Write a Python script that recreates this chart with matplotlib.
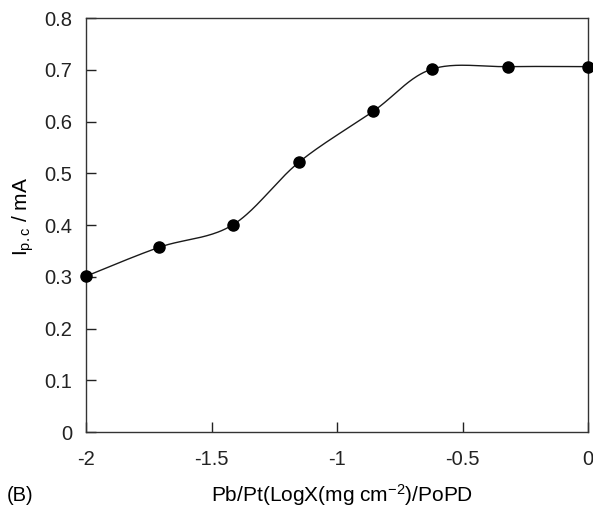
import numpy as np
import matplotlib
matplotlib.use("Agg")
import matplotlib.pyplot as plt

plt.rcParams['font.family'] = ['Liberation Sans', 'DejaVu Sans']
plt.rcParams['mathtext.fontset'] = 'custom'
plt.rcParams['mathtext.rm'] = 'Liberation Sans'
plt.rcParams['mathtext.it'] = 'Liberation Sans'

x_vals = [-2.0, -1.708, -1.416, -1.150, -0.855, -0.623, -0.317, 0.0]
y_vals = [0.301, 0.357, 0.400, 0.522, 0.620, 0.701, 0.706, 0.706]
x_ticks = [-2, -1.5, -1, -0.5, 0]
x_ticklabels = ['-2', '-1.5', '-1', '-0.5', '0']
y_ticks = [0, 0.1, 0.2, 0.3, 0.4, 0.5, 0.6, 0.7, 0.8]
y_ticklabels = ['0', '0.1', '0.2', '0.3', '0.4', '0.5', '0.6', '0.7', '0.8']


def smooth_curve(xs, ys, n=40):
    xs = np.asarray(xs, float)
    ys = np.asarray(ys, float)
    px = np.concatenate([[xs[0]], xs, [xs[-1]]])
    py = np.concatenate([[ys[0]], ys, [ys[-1]]])
    outx, outy = [], []
    t = np.linspace(0, 1, n)
    for i in range(1, len(px) - 2):
        p0 = np.array([px[i], py[i]])
        p3 = np.array([px[i + 1], py[i + 1]])
        p1 = p0 + (np.array([px[i + 1], py[i + 1]]) - np.array([px[i - 1], py[i - 1]])) / 6
        p2 = p3 - (np.array([px[i + 2], py[i + 2]]) - np.array([px[i], py[i]])) / 6
        b = ((1 - t) ** 3)[:, None] * p0 + (3 * (1 - t) ** 2 * t)[:, None] * p1 \
            + (3 * (1 - t) * t ** 2)[:, None] * p2 + (t ** 3)[:, None] * p3
        outx.extend(b[:, 0])
        outy.extend(b[:, 1])
    return outx, outy


fig = plt.figure(figsize=(5.93, 5.11), dpi=100)
ax = fig.add_axes([86 / 593, 1 - 432 / 511, (588 - 86) / 593, (432 - 18) / 511])

sx, sy = smooth_curve(x_vals, y_vals)
ax.plot(sx, sy, color='#1a1a1a', lw=1.0, zorder=2)
ax.plot(x_vals, y_vals, 'o', color='black', markersize=8, clip_on=False, zorder=3)

ax.set_xlim(-2, 0)
ax.set_ylim(0, 0.8)
ax.set_xticks(x_ticks)
ax.set_xticklabels(x_ticklabels)
ax.set_yticks(y_ticks)
ax.set_yticklabels(y_ticklabels)
ax.tick_params(direction='in', length=7, width=1, labelsize=14.5, colors='#222222')
ax.tick_params(axis='x', pad=13)
ax.tick_params(axis='y', pad=10)
for s in ax.spines.values():
    s.set_linewidth(1.0)
    s.set_color('#333333')

ax.set_ylabel('I$_{\\rm p.c}$ / mA', fontsize=15)
ax.yaxis.set_label_coords((36 - 86) / 502, (432 - 216) / 414)
fig.text(342 / 593, 1 - 495 / 511, 'Pb/Pt(LogX(mg cm$^{-2}$)/PoPD', fontsize=15,
         ha='center', va='center')
fig.text(7 / 593, 1 - 495 / 511, '(B)', fontsize=14.5, ha='left', va='center')

fig.savefig('out.png', dpi=100)
